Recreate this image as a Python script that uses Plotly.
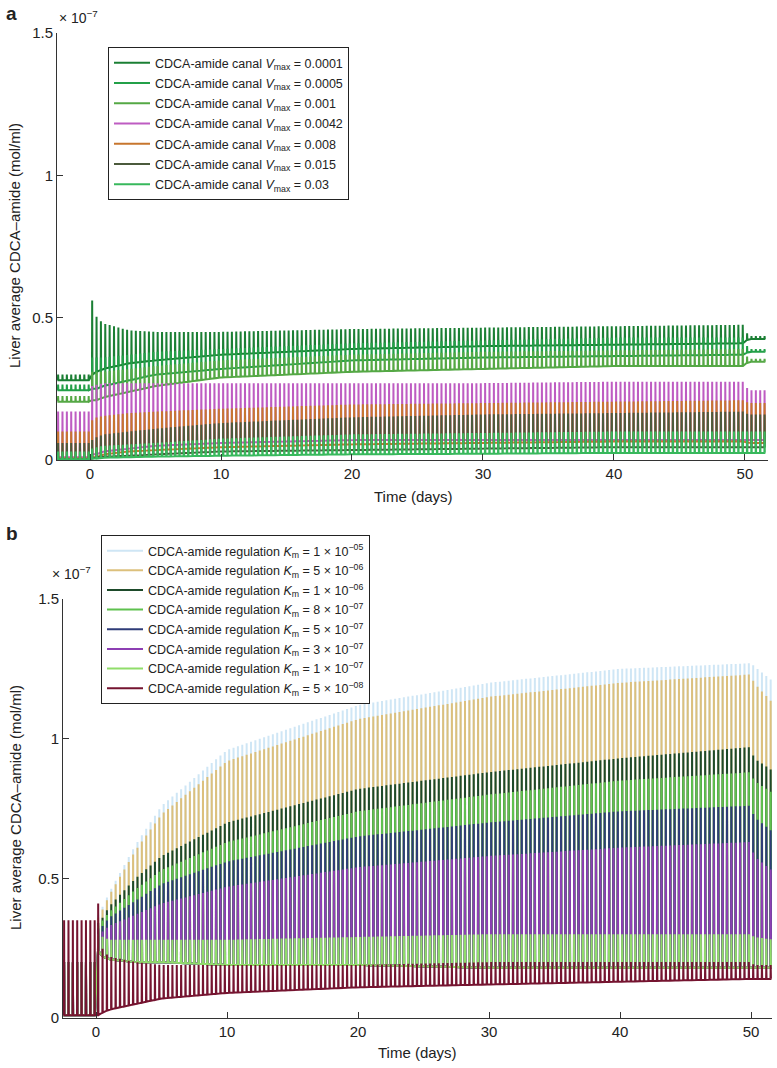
import numpy as np
import plotly.graph_objects as go

# ---------------- data (units of 1e-7 mol/ml) ----------------
DOSE_PERIOD = 1 / 3          # three doses per day
PRE_START = -2.45
MAIN_START = 0.15
KT = [0.15, 0.5, 1, 3, 5, 10, 20, 30, 40, 50, 50.2, 51.8]   # envelope read-out times (days)

# Panel a: CDCA-amide canal Vmax
a_labels = ["0.0001", "0.0005", "0.001", "0.0042", "0.008", "0.015", "0.03"]
a_colors = ["#1b7f34", "#23a048", "#55a845", "#be5cc2", "#c7762e", "#4b5a3c", "#38b85c"]
a_pre_peak = [0.30, 0.265, 0.225, 0.17, 0.10, 0.06, 0.03]
a_pre_trough = [0.28, 0.245, 0.205, 0.01, 0.005, 0.003, 0.003]
a_peak = [
    [0.56, 0.50, 0.48, 0.455, 0.45, 0.45, 0.46, 0.465, 0.47, 0.475, 0.435, 0.435],
    [0.36, 0.36, 0.36, 0.37, 0.38, 0.39, 0.41, 0.42, 0.43, 0.43, 0.39, 0.39],
    [0.31, 0.31, 0.31, 0.32, 0.33, 0.35, 0.37, 0.38, 0.385, 0.39, 0.355, 0.355],
    [0.26, 0.265, 0.27, 0.27, 0.27, 0.27, 0.27, 0.27, 0.275, 0.275, 0.245, 0.245],
    [0.14, 0.15, 0.155, 0.165, 0.17, 0.18, 0.195, 0.20, 0.205, 0.21, 0.20, 0.20],
    [0.07, 0.08, 0.09, 0.10, 0.11, 0.13, 0.15, 0.16, 0.165, 0.17, 0.16, 0.16],
    [0.04, 0.045, 0.05, 0.055, 0.06, 0.075, 0.09, 0.095, 0.10, 0.10, 0.10, 0.10],
]
a_trough = [
    [0.30, 0.31, 0.32, 0.34, 0.35, 0.37, 0.39, 0.40, 0.405, 0.41, 0.425, 0.425],
    [0.25, 0.25, 0.26, 0.28, 0.30, 0.32, 0.35, 0.36, 0.365, 0.37, 0.38, 0.38],
    [0.21, 0.21, 0.22, 0.24, 0.26, 0.29, 0.31, 0.32, 0.33, 0.33, 0.345, 0.345],
    [0.02, 0.02, 0.03, 0.04, 0.05, 0.06, 0.07, 0.07, 0.07, 0.07, 0.07, 0.07],
    [0.01, 0.01, 0.02, 0.03, 0.035, 0.045, 0.055, 0.06, 0.065, 0.065, 0.06, 0.06],
    [0.005, 0.01, 0.012, 0.015, 0.02, 0.03, 0.035, 0.04, 0.045, 0.045, 0.045, 0.045],
    [0.005, 0.005, 0.008, 0.01, 0.012, 0.015, 0.02, 0.022, 0.025, 0.025, 0.025, 0.025],
]

# Panel b: CDCA-amide regulation Km
b_labels = ["1 × 10<sup>−05</sup>", "5 × 10<sup>−06</sup>", "1 × 10<sup>−06</sup>", "8 × 10<sup>−07</sup>",
            "5 × 10<sup>−07</sup>", "3 × 10<sup>−07</sup>", "1 × 10<sup>−07</sup>", "5 × 10<sup>−08</sup>"]
b_colors = ["#cfe6f5", "#dcc07c", "#1d4a2a", "#5fc14f", "#2f3c78", "#8d3fb3", "#90dd6a", "#751430"]
b_pre_peak = [0.20, 0.20, 0.20, 0.20, 0.20, 0.20, 0.20, 0.35]
b_pre_trough = [0.01, 0.01, 0.01, 0.01, 0.01, 0.01, 0.01, 0.01]
b_low_trough = [0.24, 0.22, 0.21, 0.20, 0.20, 0.19, 0.19, 0.18, 0.18, 0.18, 0.18, 0.18]
b_peak = [
    [0.37, 0.40, 0.45, 0.62, 0.76, 0.96, 1.12, 1.20, 1.25, 1.27, 1.26, 1.20],
    [0.36, 0.39, 0.44, 0.60, 0.73, 0.92, 1.07, 1.15, 1.20, 1.23, 1.20, 1.12],
    [0.34, 0.36, 0.40, 0.50, 0.58, 0.70, 0.82, 0.88, 0.93, 0.97, 0.93, 0.88],
    [0.33, 0.35, 0.38, 0.46, 0.53, 0.63, 0.74, 0.80, 0.85, 0.88, 0.85, 0.80],
    [0.32, 0.33, 0.36, 0.42, 0.48, 0.56, 0.65, 0.70, 0.74, 0.76, 0.72, 0.66],
    [0.30, 0.31, 0.33, 0.37, 0.41, 0.47, 0.54, 0.58, 0.61, 0.63, 0.58, 0.52],
    [0.30, 0.29, 0.28, 0.28, 0.28, 0.28, 0.29, 0.30, 0.30, 0.30, 0.29, 0.28],
    [0.41, 0.24, 0.22, 0.20, 0.19, 0.19, 0.19, 0.20, 0.20, 0.20, 0.19, 0.19],
]
b_trough = [b_low_trough] * 7 + [
    [0.01, 0.02, 0.03, 0.05, 0.07, 0.09, 0.11, 0.12, 0.13, 0.14, 0.14, 0.14],
]


def build(pre_pk, pre_tr, pk, tr):
    xs, ys = [], []
    pre_t = np.arange(PRE_START, 0, DOSE_PERIOD)
    main_t = np.arange(MAIN_START, KT[-1], DOSE_PERIOD)
    for t in pre_t:
        xs += [t, t + 0.015, t + 0.035]
        ys += [pre_tr, pre_pk, pre_tr]
    p_env = np.interp(main_t, KT, pk)
    q_env = np.interp(main_t, KT, tr)
    for t, p, q in zip(main_t, p_env, q_env):
        xs += [t, t + 0.015, t + 0.035]
        ys += [q, p, q]
    return xs, ys


fig = go.Figure()
FONT = "Liberation Sans, Arial, Helvetica, sans-serif"
LW = 2.0

for i, lab in enumerate(a_labels):
    x, y = build(a_pre_peak[i], a_pre_trough[i], a_peak[i], a_trough[i])
    fig.add_trace(go.Scatter(
        x=x, y=y, mode="lines", line=dict(color=a_colors[i], width=LW),
        name=f"CDCA-amide canal <i>V</i><sub>max</sub> = {lab}", legendgroup=f"a{i}",
        xaxis="x", yaxis="y", legend="legend"))

for i, lab in enumerate(b_labels):
    x, y = build(b_pre_peak[i], b_pre_trough[i], b_peak[i], b_trough[i])
    fig.add_trace(go.Scatter(
        x=x, y=y, mode="lines", line=dict(color=b_colors[i], width=LW),
        name=f"CDCA-amide regulation <i>K</i><sub>m</sub> = {lab}", legendgroup=f"b{i}",
        xaxis="x2", yaxis="y2", legend="legend2"))

W, H = 777, 1068
axis_common = dict(showline=True, linecolor="#333", linewidth=1, ticks="inside", ticklen=6,
                   tickcolor="#333", showgrid=False, zeroline=False, automargin=False,
                   tickfont=dict(family=FONT, size=15, color="#222"))

leg_common = dict(xanchor="left", yanchor="top", bgcolor="white", bordercolor="#222", borderwidth=1,
                  font=dict(family=FONT, size=12.5, color="#222"), itemwidth=36)

fig.update_layout(
    width=W, height=H, margin=dict(l=0, r=0, t=0, b=0, autoexpand=False),
    paper_bgcolor="white", plot_bgcolor="white", showlegend=True,
    font=dict(family=FONT, color="#222"),
    xaxis=dict(domain=[57 / W, 768 / W], range=[-2.52, 51.76], tickvals=[0, 10, 20, 30, 40, 50],
               anchor="y", **axis_common),
    yaxis=dict(domain=[1 - 460 / H, 1 - 33 / H], range=[0, 1.5], tickvals=[0, 0.5, 1, 1.5],
               ticktext=["0", "0.5", "1", "1.5"], anchor="x", **axis_common),
    xaxis2=dict(domain=[63 / W, 772 / W], range=[-2.52, 51.6], tickvals=[0, 10, 20, 30, 40, 50],
                anchor="y2", **axis_common),
    yaxis2=dict(domain=[1 - 1018 / H, 1 - 599 / H], range=[0, 1.5], tickvals=[0, 0.5, 1, 1.5],
                ticktext=["0", "0.5", "1", "1.5"], anchor="x2", **axis_common),
    legend=dict(x=108 / W, y=1 - 47 / H, tracegroupgap=1.0, **leg_common),
    legend2=dict(x=101 / W, y=1 - 535 / H, tracegroupgap=0.4, **leg_common),
)

ann = [
    dict(text="<b>a</b>", x=4 / W, y=1 - 1 / H, font=dict(size=19)),
    dict(text="<b>b</b>", x=4 / W, y=1 - 521 / H, font=dict(size=19)),
    dict(text="× 10<sup>−7</sup>", x=57 / W, y=1 - 6 / H, font=dict(size=14)),
    dict(text="× 10<sup>−7</sup>", x=50 / W, y=1 - 562 / H, font=dict(size=14)),
]
for a in ann:
    a.update(xref="paper", yref="paper", xanchor="left", yanchor="top", showarrow=False)
    fig.add_annotation(**a)
for txt, x, y, ang in [("Time (days)", 413, 497, 0), ("Time (days)", 418, 1052, 0),
                       ("Liver average CDCA–amide (mol/ml)", 14, 246, -90),
                       ("Liver average CDCA–amide (mol/ml)", 15, 808, -90)]:
    fig.add_annotation(text=txt, x=x / W, y=1 - y / H, xref="paper", yref="paper", textangle=ang,
                       xanchor="center", yanchor="middle", showarrow=False, font=dict(size=15))

fig.write_html("out.html", config={"displayModeBar": False},
               post_script="document.body.style.margin='0';")
